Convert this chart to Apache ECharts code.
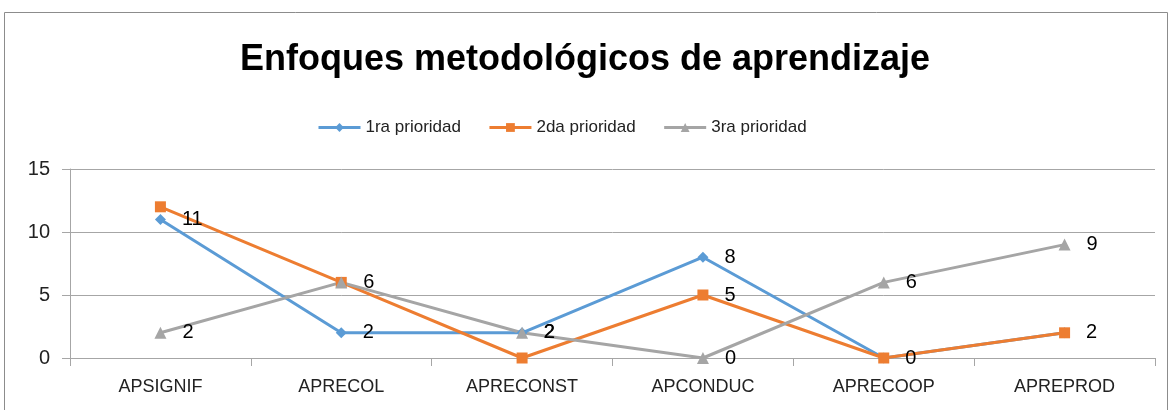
<!DOCTYPE html>
<html><head><meta charset="utf-8">
<script src="https://cdn.jsdelivr.net/npm/echarts@6/dist/echarts.min.js"></script>
<style>html,body{margin:0;padding:0;background:#fff}#c{width:1170px;height:410px}</style>
</head><body><div id="c"></div>
<script>
const categories = ['APSIGNIF','APRECOL','APRECONST','APCONDUC','APRECOOP','APREPROD'];
const serie1 = [11, 2, 2, 8, 0, 2];
const serie2 = [12, 6, 0, 5, 0, 2];
const serie3 = [2, 6, 2, 0, 6, 9];
const seriesNames = ['1ra prioridad','2da prioridad','3ra prioridad'];
const yTicks = [0, 5, 10, 15];
const orangeLabelIdx = [3];

const FONT = '"Liberation Sans",Arial,sans-serif';
const chart = echarts.init(document.getElementById('c'));
const lbl = {show:true, position:'right', distance:16, color:'#000', fontSize:20, fontFamily:FONT};
function mk(name, data, color, symbol, size, labelMode){
  return {
    name, type:'line', data: data.map((v,i)=>({value:v, label: labelMode===true || (Array.isArray(labelMode)&&labelMode.includes(i)) ? lbl : {show:false}})),
    symbol, symbolSize:size, lineStyle:{width:3,color}, itemStyle:{color}, animation:false
  };
}
chart.setOption({
  animation:false,
  title:{text:'Enfoques metodológicos de aprendizaje', left:'center', top:37,
    textStyle:{fontFamily:FONT, fontWeight:'bold', fontSize:36, color:'#000'}},
  legend:{top:114, left:312, itemWidth:42, itemHeight:11, itemGap:27,
    lineStyle:{width:3},
    textStyle:{fontFamily:FONT, fontSize:17, color:'#222'}},
  graphic:[{type:'rect', shape:{x:4.5,y:12.5,width:1163,height:420}, style:{fill:'none', stroke:'#8c8c8c', lineWidth:1}}],
  grid:{left:70, right:15, top:169, bottom:52},
  xAxis:{type:'category', data:categories, boundaryGap:true,
    axisLine:{lineStyle:{color:'#a6a6a6'}}, axisTick:{show:true, length:8, lineStyle:{color:'#a6a6a6'}},
    axisLabel:{fontFamily:FONT, fontSize:18, color:'#222', margin:20}},
  yAxis:{type:'value', min:0, max:15, interval:5,
    axisLine:{show:true, lineStyle:{color:'#a6a6a6'}}, axisTick:{show:true, length:8, lineStyle:{color:'#a6a6a6'}},
    splitLine:{lineStyle:{color:'#a6a6a6'}},
    axisLabel:{fontFamily:FONT, fontSize:20, color:'#222', margin:20,
      formatter:v=>yTicks.includes(v)?String(v):''}},
  series:[
    mk(seriesNames[0], serie1, '#5B9BD5', 'diamond', 11, true),
    mk(seriesNames[1], serie2, '#ED7D31', 'rect', 11, orangeLabelIdx),
    mk(seriesNames[2], serie3, '#A5A5A5', 'triangle', 12, true)
  ]
});
</script></body></html>
